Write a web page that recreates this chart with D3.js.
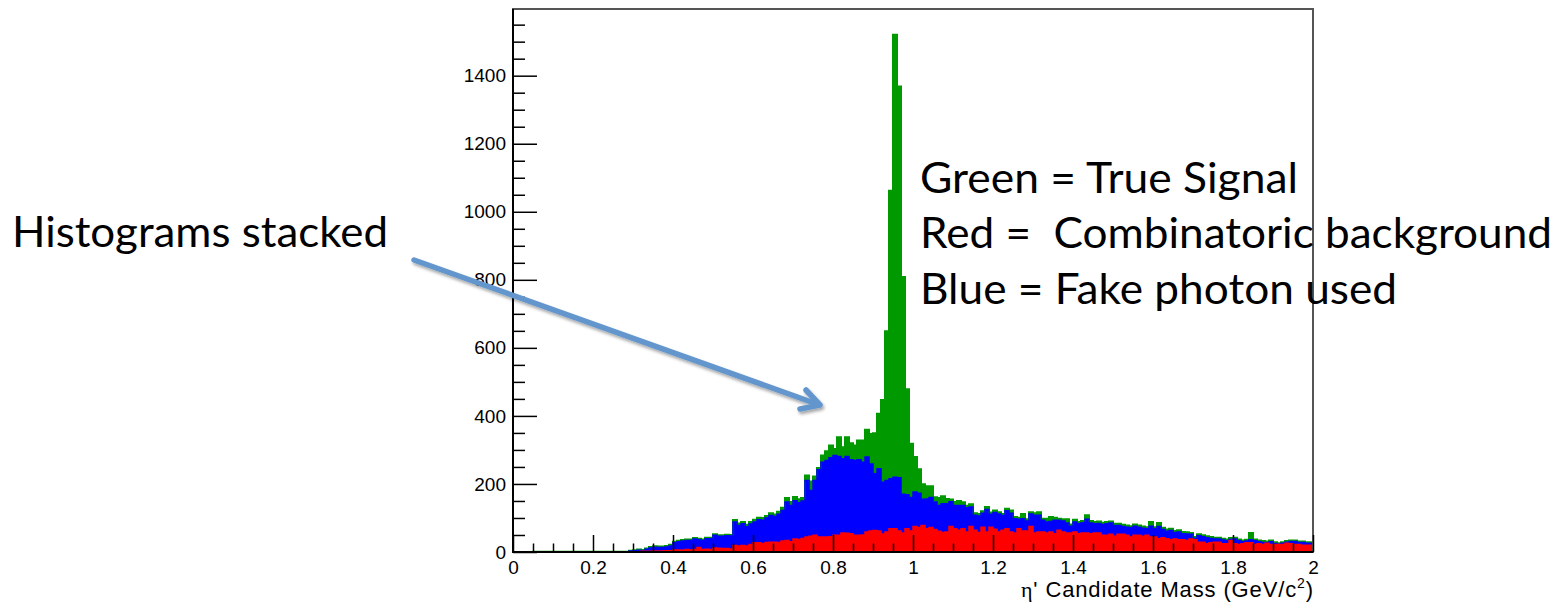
<!DOCTYPE html>
<html>
<head>
<meta charset="utf-8">
<script src="https://cdn.jsdelivr.net/npm/d3@7"></script>
<style>
  body { margin: 0; background: #fff; }
  svg { display: block; }
  .note { font-family: Lato, "Open Sans", sans-serif; font-size: 42px; fill: #000; white-space: pre; }
  .axis text { font-family: "Liberation Sans", Arial, sans-serif; font-size: 19px; fill: #000; }
  .title { font-family: "Liberation Sans", Arial, sans-serif; font-size: 22px; fill: #000; }
</style>
</head>
<body>
<div id="chart"></div>
<script>
// counts per 0.01 GeV bin, 0 -> 2 GeV (200 bins)
const red = [
  0,0,0,0,0,1,1,1,1,1,   1,1,1,1,1,1,1,1,1,1,   1,1,1,1,1,1,1,1,1,1,
  1,1,2,2,2,3,3,3,4,4,   6,6,5,7,6,7,13,7,8,7,  12,11,10,10,9,19,18,19,18,22,
  27,27,25,28,29,29,28,32,34,30,   38,37,40,44,46,49,44,44,44,45,
  49,49,56,55,54,49,49,50,59,62,   63,62,53,59,68,68,62,56,68,62,
  75,72,78,68,72,66,61,57,59,75,   68,64,68,59,75,64,57,73,59,73,
  67,59,64,68,59,56,68,62,62,75,   56,59,59,56,59,54,64,59,56,56,
  59,54,56,56,54,56,56,49,49,52,   46,52,52,49,44,49,49,46,49,44,
  44,39,42,39,36,38,36,36,34,38,   36,29,29,24,27,29,29,24,24,34,
  24,22,24,27,27,22,24,22,26,22,   22,22,22,26,24,22,22,20,20,20
]
const blue = [
  0,0,0,0,0,0,0,0,0,0,   0,0,0,0,0,0,0,0,0,0,   0,0,0,0,0,0,0,0,0,2,
  3,4,2,6,10,11,10,10,11,14,   21,24,27,27,28,31,23,27,31,32,
  37,35,36,38,38,69,60,64,56,60,   61,68,68,72,78,75,83,90,113,107,
  113,108,110,166,135,161,198,220,225,232,   235,232,218,226,217,220,222,214,220,197,
  167,183,152,151,147,152,156,114,100,98,   101,101,77,88,88,81,76,85,83,73,
  69,73,69,71,57,44,49,41,66,38,   49,53,43,53,55,42,28,36,29,37,
  52,49,34,32,31,39,29,32,29,20,   29,29,30,40,31,27,28,32,34,33,
  32,26,23,24,27,27,24,24,19,32,   24,36,24,22,27,19,23,18,19,14,
  4,19,16,18,13,9,9,11,9,3,   14,11,6,5,9,11,6,6,1,8,   3,1,4,3,7,9,6,8,6,6
]
const green = [
  0,0,0,0,0,0,0,0,0,0,   0,0,0,0,0,0,0,0,0,0,   0,0,0,0,0,0,0,0,0,1,
  1,2,2,2,3,3,3,3,3,3,   3,3,3,3,3,3,3,3,3,3,   3,3,3,3,3,6,6,5,6,6,
  7,6,7,6,7,6,7,8,12,10,   11,10,9,15,26,12,5,20,27,36,
  19,56,34,56,49,44,57,64,80,88,   119,161,242,439,847,1300,1150,638,310,158,
  103,70,44,37,33,14,22,22,14,6,   10,13,9,6,8,6,6,6,7,5,
  6,5,5,6,8,5,5,14,5,5,   6,9,5,10,13,8,5,5,11,5,
  7,5,5,12,6,5,6,5,5,5,   5,5,5,5,5,5,5,5,5,12,
  5,10,5,5,5,5,5,5,5,4,   4,4,4,4,4,4,4,4,4,4,
  4,4,4,4,20,4,4,4,4,4,   4,3,3,3,3,3,3,3,3,3
]

const xTicks = [0, 0.2, 0.4, 0.6, 0.8, 1, 1.2, 1.4, 1.6, 1.8, 2]
const yTicks = [0, 200, 400, 600, 800, 1000, 1200, 1400]
const notes = ['Green = True Signal', 'Red =  Combinatoric background', 'Blue = Fake photon used']

const svg = d3.select('#chart').append('svg')
  .attr('width', 1559)
  .attr('height', 603)

const x = d3.scaleLinear().domain([0, 2]).range([513, 1313])
const y = d3.scaleLinear().domain([0, 1596]).range([552, 9])

const rows = red.map(function (r, i) {
  return { mass: i * 0.01, red: r, blue: blue[i], green: green[i] }
})
rows.push({ mass: 2, red: red[199], blue: blue[199], green: green[199] })

const series = d3.stack().keys(['red', 'blue', 'green'])(rows)
const colors = { red: '#ff0000', blue: '#0000ff', green: '#009a00' }

const area = d3.area().curve(d3.curveStepAfter)
  .x(function (d) { return x(d.data.mass) })
  .y0(function (d) { return y(d[0]) })
  .y1(function (d) { return y(d[1]) })

const topLine = d3.line().curve(d3.curveStepAfter)
  .x(function (d) { return x(d.data.mass) })
  .y(function (d) { return y(d[1]) })

svg.selectAll('path.fill')
  .data(series)
  .enter()
  .append('path')
  .attr('class', 'fill')
  .attr('d', area)
  .attr('fill', function (s) { return colors[s.key] })

svg.selectAll('path.edge')
  .data(series.slice().reverse())
  .enter()
  .append('path')
  .attr('class', 'edge')
  .attr('d', topLine)
  .attr('fill', 'none')
  .attr('stroke', function (s) { return colors[s.key] })
  .attr('stroke-width', function (s) { return s.key === 'green' ? 2 : 1.5 })

// frame
svg.append('rect')
  .attr('x', 513).attr('y', 9)
  .attr('width', 800).attr('height', 543)
  .attr('fill', 'none')
  .attr('stroke', '#555')
  .attr('stroke-width', 2)

// y axis: inward ticks + labels
const yMinor = d3.range(0, 1596, 50).filter(function (v) { return v % 200 !== 0 })
svg.append('g').attr('transform', 'translate(513,0)')
  .call(d3.axisRight(y).tickValues(yMinor).tickSize(12).tickFormat(''))
  .call(function (g) { g.select('.domain').remove() })
svg.append('g').attr('transform', 'translate(513,0)')
  .call(d3.axisRight(y).tickValues(yTicks).tickSize(24).tickFormat(''))
  .call(function (g) { g.select('.domain').remove() })
svg.append('g').attr('class', 'axis').attr('transform', 'translate(513,0)')
  .call(d3.axisLeft(y).tickValues(yTicks).tickSize(0).tickPadding(7).tickFormat(d3.format('d')))
  .call(function (g) { g.select('.domain').remove() })

// x axis
const xMinor = d3.range(0, 2.001, 0.05).filter(function (v) { return Math.abs(v * 5 - Math.round(v * 5)) > 1e-6 })
svg.append('g').attr('transform', 'translate(0,552)')
  .call(d3.axisTop(x).tickValues(xMinor).tickSize(8.5).tickFormat(''))
  .call(function (g) { g.select('.domain').remove() })
svg.append('g').attr('transform', 'translate(0,552)')
  .call(d3.axisTop(x).tickValues(xTicks).tickSize(17).tickFormat(''))
  .call(function (g) { g.select('.domain').remove() })
svg.append('g').attr('class', 'axis').attr('transform', 'translate(0,552)')
  .call(d3.axisBottom(x).tickValues(xTicks).tickSize(0).tickPadding(8.5).tickFormat(d3.format('~g')))
  .call(function (g) { g.select('.domain').remove() })

svg.selectAll('.tick line').attr('stroke', '#000').attr('stroke-width', 1.5)

svg.append('line').attr('x1', 513).attr('x2', 513).attr('y1', 9).attr('y2', 553)
  .attr('stroke', '#000').attr('stroke-width', 2)
svg.append('line').attr('x1', 512).attr('x2', 1313).attr('y1', 552).attr('y2', 552)
  .attr('stroke', '#000').attr('stroke-width', 2)

// axis title
const title = svg.append('text').attr('class', 'title')
  .attr('x', 1313).attr('y', 597).attr('text-anchor', 'end')
  .attr('textLength', 292).attr('lengthAdjust', 'spacing')
title.append('tspan').attr('font-family', '"Liberation Serif", "DejaVu Serif", serif').text('η')
title.append('tspan').text("' Candidate Mass (GeV/c")
title.append('tspan').attr('font-size', 14).attr('dy', -9).text('2')
title.append('tspan').attr('dy', 9).text(')')

// annotations
const defs = svg.append('defs')
const shadow = defs.append('filter').attr('id', 'shadow')
  .attr('x', -0.1).attr('y', -0.3).attr('width', 1.2).attr('height', 1.6)
shadow.append('feDropShadow')
  .attr('dx', 1.5).attr('dy', 2.5).attr('stdDeviation', 1.8)
  .attr('flood-color', '#000').attr('flood-opacity', 0.35)

const arrow = svg.append('g')
  .attr('filter', 'url(#shadow)')
  .attr('stroke', '#6496cd')
  .attr('stroke-width', 5.5)
  .attr('stroke-linecap', 'round')
  .attr('stroke-linejoin', 'round')
  .attr('fill', 'none')
arrow.append('line').attr('x1', 414).attr('y1', 260).attr('x2', 817).attr('y2', 404)
arrow.append('polyline').attr('points', '806,390 820,405 800,409')

svg.append('text').attr('class', 'note')
  .attr('x', 12).attr('y', 247)
  .attr('textLength', 376).attr('lengthAdjust', 'spacingAndGlyphs')
  .text('Histograms stacked')

const noteWidths = [378, 632, 477]
svg.selectAll('text.legend')
  .data(notes)
  .enter()
  .append('text')
  .attr('class', 'note legend')
  .attr('x', 920)
  .attr('y', function (d, i) { return [193, 248, 304][i] })
  .attr('textLength', function (d, i) { return noteWidths[i] })
  .attr('lengthAdjust', 'spacingAndGlyphs')
  .text(function (d) { return d })
</script>
</body>
</html>
